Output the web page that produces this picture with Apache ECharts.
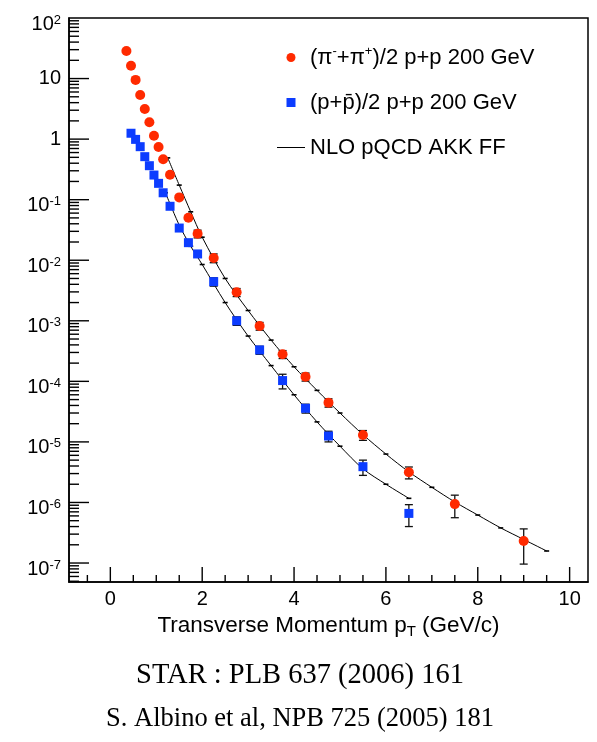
<!DOCTYPE html>
<html>
<head>
<meta charset="utf-8">
<script src="https://cdn.jsdelivr.net/npm/echarts@6/dist/echarts.min.js"></script>
<style>
  html, body { margin: 0; padding: 0; background: #fff; }
  #chart { width: 597px; height: 742px; }
</style>
</head>
<body>
<div id="chart"></div>
<script>
// (π⁻+π⁺)/2 invariant yield, p+p 200 GeV
const pionPt    = [0.35, 0.45, 0.55, 0.65, 0.75, 0.85, 0.95, 1.05, 1.15, 1.3, 1.5, 1.7, 1.9, 2.25, 2.75, 3.25, 3.75, 4.25, 4.75, 5.5, 6.5, 7.5, 9.0];
const pionYield = [28.5, 16.3, 9.5, 5.35, 3.14, 1.90, 1.14, 0.74, 0.465, 0.258, 0.109, 0.0503, 0.0274, 0.0109, 2.96e-3, 8.2e-4, 2.8e-4, 1.19e-4, 4.45e-5, 1.30e-5, 3.15e-6, 9.4e-7, 2.31e-7];
const pionErr   = [0, 0, 0, 0, 0, 0, 0, 0, 0, 0, 0, 0, 0.004, 1.8e-3, 4.5e-4, 1.2e-4, 4.2e-5, 1.8e-5, 7e-6, 2.4e-6, 7e-7, 3.8e-7, 1.35e-7];

// (p+p̄)/2 invariant yield, p+p 200 GeV
const protonPt    = [0.45, 0.55, 0.65, 0.75, 0.85, 0.95, 1.05, 1.15, 1.3, 1.5, 1.7, 1.9, 2.25, 2.75, 3.25, 3.75, 4.25, 4.75, 5.5, 6.5];
const protonYield = [1.25, 0.99, 0.75, 0.513, 0.364, 0.255, 0.186, 0.130, 0.0778, 0.034, 0.0195, 0.0127, 4.43e-3, 1.0e-3, 3.3e-4, 1.03e-4, 3.59e-5, 1.25e-5, 3.9e-6, 6.6e-7];
const protonErr   = [0, 0, 0, 0, 0, 0, 0, 0, 0, 0, 0, 0, 7e-4, 1.6e-4, 5e-5, 2.8e-5, 6e-6, 2.5e-6, 1.1e-6, 2.6e-7];

// NLO pQCD with AKK fragmentation functions
const nloPionPt      = [1.25, 1.5, 1.75, 2.0, 2.5, 3.0, 3.5, 4.0, 4.5, 5.0, 5.5, 6.0, 6.5, 7.0, 7.5, 8.0, 8.5, 9.0, 9.5];
const nloPionYield   = [0.49, 0.174, 0.063, 0.024, 5.0e-3, 1.48e-3, 4.8e-4, 1.74e-4, 7.1e-5, 3.0e-5, 1.32e-5, 6.3e-6, 3.2e-6, 1.78e-6, 1.02e-6, 6.2e-7, 3.8e-7, 2.45e-7, 1.58e-7];
const nloProtonPt    = [1.2, 1.5, 1.75, 2.0, 2.5, 3.0, 3.5, 4.0, 4.5, 5.0, 5.5, 6.0, 6.5];
const nloProtonYield = [0.13, 0.038, 0.017, 8.5e-3, 2.0e-3, 5.6e-4, 1.82e-4, 6.0e-5, 2.14e-5, 8.5e-6, 3.6e-6, 2.0e-6, 1.17e-6];

// Axis ticks
const xMajorTicks = [0, 2, 4, 6, 8, 10];
const xMinorTicks = [-0.5, 0.5, 1, 1.5, 2.5, 3, 3.5, 4.5, 5, 5.5, 6.5, 7, 7.5, 8.5, 9, 9.5];
const yMajorTicks = [1e-7, 1e-6, 1e-5, 1e-4, 1e-3, 1e-2, 1e-1, 1, 10];
const yLabelValues = [1e-7, 1e-6, 1e-5, 1e-4, 1e-3, 1e-2, 1e-1, 1, 10, 100];

const X_MIN = -0.9, X_MAX = 10.4;
const Y_MIN = 4.86e-8, Y_MAX = 100;

// minor log ticks 2..9 within each decade
const yMinorTicks = [];
for (let e = -8; e <= 1; e++) {
  for (let k = 2; k <= 9; k++) {
    const v = k * Math.pow(10, e);
    if (v > Y_MIN && v < Y_MAX) yMinorTicks.push(v);
  }
}

const legendText = {
  pion: '{t|(π}{sup|-}{t|+π}{sup|+}{t|)/2 p+p 200 GeV}',
  proton: '{t|(p+p\u0304)/2 p+p 200 GeV}',
  theory: '{t|NLO pQCD AKK FF}'
};

const SANS = '"Liberation Sans", Arial, Helvetica, sans-serif';
const SERIF = '"Liberation Serif", "Times New Roman", serif';
const RED = '#ff2a00';
const BLUE = '#0c3cff';

function zip(xs, ys) { return xs.map((x, i) => [x, ys[i]]); }

function errorBars(xs, ys, errs) {
  const data = [];
  xs.forEach((x, i) => { if (errs[i]) data.push([x, ys[i] - errs[i], ys[i] + errs[i]]); });
  return {
    type: 'custom',
    data: data,
    z: 3,
    silent: true,
    encode: { x: 0, y: [1, 2] },
    renderItem: function (params, api) {
      const x = api.value(0);
      const lo = api.coord([x, api.value(1)]);
      const hi = api.coord([x, api.value(2)]);
      const cap = 4;
      const st = { stroke: '#111', lineWidth: 1.3 };
      return {
        type: 'group',
        children: [
          { type: 'line', shape: { x1: lo[0], y1: lo[1], x2: hi[0], y2: hi[1] }, style: st },
          { type: 'line', shape: { x1: lo[0] - cap, y1: lo[1], x2: lo[0] + cap, y2: lo[1] }, style: st },
          { type: 'line', shape: { x1: hi[0] - cap, y1: hi[1], x2: hi[0] + cap, y2: hi[1] }, style: st }
        ]
      };
    }
  };
}

// Tick marks along the bottom axis: anchored at y = 1 (inside the frame);
// the frame bottom is found by stepping down the log scale to Y_MIN.
function xTickMarks(values, len) {
  return {
    type: 'custom',
    data: values.map(v => [v, 1, 10]),
    z: 3,
    silent: true,
    encode: { x: 0, y: [1, 2] },
    renderItem: function (params, api) {
      const x = api.value(0);
      const a = api.coord([x, api.value(1)]);
      const b = api.coord([x, api.value(2)]);
      const perDecade = a[1] - b[1];
      const yb = a[1] - Math.log10(Y_MIN) * perDecade;
      const st = { stroke: '#000', lineWidth: 1.4 };
      return {
        type: 'group',
        children: [
          { type: 'line', shape: { x1: a[0], y1: yb, x2: a[0], y2: yb - len }, style: st }
        ]
      };
    }
  };
}

// Tick marks along the left axis: anchored at x = 0 and x = 1 (inside the frame);
// the frame's left edge is found by stepping the linear scale to X_MIN.
function yTickMarks(values, len) {
  return {
    type: 'custom',
    data: values.map(v => [0, 1, v]),
    z: 3,
    silent: true,
    encode: { x: [0, 1], y: 2 },
    renderItem: function (params, api) {
      const v = api.value(2);
      const a = api.coord([api.value(0), v]);
      const b = api.coord([api.value(1), v]);
      const perUnit = b[0] - a[0];
      const xl = a[0] + X_MIN * perUnit;
      const st = { stroke: '#000', lineWidth: 1.4 };
      return {
        type: 'group',
        children: [
          { type: 'line', shape: { x1: xl, y1: a[1], x2: xl + len, y2: a[1] }, style: st }
        ]
      };
    }
  };
}

function theoryLine(xs, ys) {
  return {
    name: 'theory',
    type: 'line',
    data: zip(xs, ys),
    smooth: 0.3,
    z: 2,
    symbol: 'rect',
    symbolSize: [5, 1.6],
    showSymbol: true,
    itemStyle: { color: '#000' },
    lineStyle: { color: '#000', width: 1 },
    silent: true
  };
}

const axisLineStyle = { color: '#000', width: 1.5 };

const chart = echarts.init(document.getElementById('chart'), null, { renderer: 'canvas' });
chart.setOption({
  animation: false,
  backgroundColor: '#fff',
  grid: { left: 69, top: 18, width: 519, height: 564, show: true, borderColor: '#000', borderWidth: 1.5, backgroundColor: 'transparent' },
  legend: {
    orient: 'vertical',
    left: 277,
    top: 45,
    padding: 0,
    itemWidth: 28,
    itemHeight: 9,
    itemGap: 21,
    selectedMode: false,
    data: [
      { name: 'pion', icon: 'circle' },
      { name: 'proton', icon: 'path://M0,0H10V10H0Z' },
      { name: 'theory', icon: 'path://M0,0H28V1H0Z' }
    ],
    formatter: name => legendText[name],
    textStyle: {
      color: '#000',
      fontFamily: SANS,
      fontSize: 22,
      lineHeight: 24,
      rich: {
        t: { fontFamily: SANS, fontSize: 22, color: '#000' },
        sup: { fontFamily: SANS, fontSize: 13, color: '#000', padding: [0, 0, 12, 0] }
      }
    }
  },
  xAxis: {
    type: 'value',
    min: X_MIN,
    max: X_MAX,
    position: 'bottom',
    axisLine: { show: true, onZero: false, lineStyle: axisLineStyle },
    axisTick: { show: false },
    axisLabel: { customValues: xMajorTicks, margin: 7, color: '#000', fontFamily: SANS, fontSize: 20 },
    splitLine: { show: false },
    name: '{t|Transverse Momentum p}{sub|T}{t| (GeV/c)}',
    nameLocation: 'middle',
    nameGap: 26,
    nameTextStyle: {
      color: '#000',
      rich: {
        t: { fontFamily: SANS, fontSize: 22.5, color: '#000' },
        sub: { fontFamily: SANS, fontSize: 15, color: '#000', padding: [12, 0, 0, 0] }
      }
    }
  },
  yAxis: {
    type: 'log',
    min: Y_MIN,
    max: Y_MAX,
    position: 'left',
    axisLine: { show: true, onZero: false, lineStyle: axisLineStyle },
    axisTick: { show: false },
    axisLabel: {
      customValues: yLabelValues,
      margin: 8,
      color: '#000',
      formatter: function (v) {
        const e = Math.round(Math.log10(v));
        if (e === 0) return '{n|1}';
        if (e === 1) return '{n|10}';
        return '{b|10}{s|' + e + '}';
      },
      rich: {
        n: { fontFamily: SANS, fontSize: 20, color: '#000' },
        b: { fontFamily: SANS, fontSize: 20, color: '#000', padding: [12, 0, 0, 0] },
        s: { fontFamily: SANS, fontSize: 13, color: '#000', padding: [4, 0, 0, 0] }
      }
    },
    splitLine: { show: false }
  },
  series: [
    theoryLine(nloPionPt, nloPionYield),
    theoryLine(nloProtonPt, nloProtonYield),
    errorBars(pionPt, pionYield, pionErr),
    errorBars(protonPt, protonYield, protonErr),
    xTickMarks(xMajorTicks, 15),
    xTickMarks(xMinorTicks, 7),
    yTickMarks(yMajorTicks, 20),
    yTickMarks(yMinorTicks, 10),
    {
      name: 'pion',
      type: 'scatter',
      data: zip(pionPt, pionYield),
      symbol: 'circle',
      symbolSize: 10,
      z: 4,
      itemStyle: { color: RED, opacity: 1 }
    },
    {
      name: 'proton',
      type: 'scatter',
      data: zip(protonPt, protonYield),
      symbol: 'rect',
      symbolSize: 9,
      z: 4,
      itemStyle: { color: BLUE, opacity: 1 }
    }
  ],
  graphic: [
    {
      type: 'text', x: 300, y: 676, silent: true,
      style: { text: 'STAR : PLB 637 (2006) 161', font: '28.5px ' + SERIF, fill: '#000', align: 'center', verticalAlign: 'middle' }
    },
    {
      type: 'text', x: 300, y: 719, silent: true,
      style: { text: 'S. Albino et al, NPB 725 (2005) 181', font: '26.5px ' + SERIF, fill: '#000', align: 'center', verticalAlign: 'middle' }
    }
  ]
});
</script>
</body>
</html>
